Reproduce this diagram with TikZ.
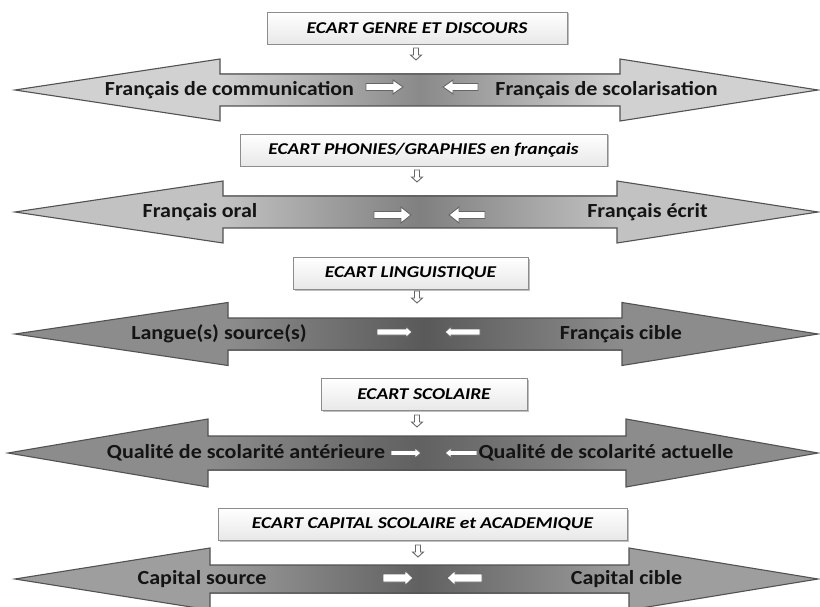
\documentclass[tikz,border=0pt]{standalone}
\usepackage{fontspec}
\setmainfont{Carlito}
\newfontfamily\lblfont{Carlito}[FakeStretch=1.1]
\newfontfamily\ttlfont{Carlito}[FakeStretch=1.18]
\usetikzlibrary{shadows}
\newcommand\blk[7]{% cx, cy, rotation, half length, shaft half, head half, head length
  \draw[arrowline, shift={(#1,#2)}, rotate=#3] (-#4,-#5) -- (#4-#7,-#5) -- (#4-#7,-#6) -- (#4,0) -- (#4-#7,#6) -- (#4-#7,#5) -- (-#4,#5) -- cycle;}
\newcommand\bigarr[9]{% y, left tip, left base, right base, right tip, shaft half, head half, head colour, mid colour
  \fill[#8] (#2,#1) -- (#3,#1-#7) -- (#3,#1+#7) -- cycle;
  \fill[#8] (#5,#1) -- (#4,#1-#7) -- (#4,#1+#7) -- cycle;
  \shade[left color=#8, right color=#8, middle color=#9] (#3,#1-#6) rectangle (#4,#1+#6);
  \draw[bigline] (#2,#1) -- (#3,#1-#7) -- (#3,#1-#6) -- (#4,#1-#6) -- (#4,#1-#7) -- (#5,#1) -- (#4,#1+#7) -- (#4,#1+#6) -- (#3,#1+#6) -- (#3,#1+#7) -- cycle;}
\begin{document}
\begin{tikzpicture}[x=1pt,y=-1pt,
  titlebox/.style={draw=black!45, line width=0.8pt, top color=white, bottom color=black!9,
    minimum height=32pt, inner sep=0pt, font=\ttlfont\bfseries\itshape\fontsize{16.5}{19}\selectfont,
    drop shadow={opacity=0.25, shadow xshift=1.5pt, shadow yshift=-1.5pt, fill=black}},
  lbl/.style={font=\lblfont\bfseries\fontsize{20}{24}\selectfont, inner sep=0pt, text=black!92},
  arrowline/.style={draw=black!60, fill=white, line width=0.9pt, line join=miter},
  bigline/.style={draw=black!68, line width=1.1pt, line join=miter}]
\clip (0,0) rectangle (820,607);
\fill[white] (0,0) rectangle (820,607);

% Row 1
\node[titlebox, minimum width=300pt] (t1) at (417,28) {ECART GENRE ET DISCOURS};
\blk{416}{54}{-90}{6}{2.5}{5.5}{5}
\bigarr{90}{15}{220}{620}{818}{16}{31}{black!18}{black!46}
\node[lbl] (l1) at (229.5,90) {Français de communication};
\node[lbl] (r1) at (606.5,90) {Français de scolarisation};
\blk{384.5}{87}{0}{18.5}{3.5}{7}{10}
\blk{460.5}{87}{180}{17.5}{3.5}{7}{10}

% Row 2
\node[titlebox, minimum width=367pt] (t2) at (423.5,150) {ECART PHONIES/GRAPHIES en français};
\blk{417}{176}{-90}{6}{2.5}{5.5}{5}
\bigarr{212}{15}{223}{617}{818}{16}{31}{black!24}{black!50}
\node[lbl] (l2) at (200,212) {Français oral};
\node[lbl] (r2) at (647.5,212) {Français écrit};
\blk{392.5}{215}{0}{18.5}{3.5}{8}{10}
\blk{467}{215}{180}{18}{3.5}{8}{10}

% Row 3
\node[titlebox, minimum width=235pt] (t3) at (410.5,273) {ECART LINGUISTIQUE};
\blk{417}{297}{-90}{6}{2.5}{5.5}{5}
\bigarr{334}{15}{228}{622}{818}{16}{31.5}{black!45}{black!65}
\node[lbl] (l3) at (219,334) {Langue(s) source(s)};
\node[lbl] (r3) at (621,334) {Français cible};
\blk{394.5}{332}{0}{17.5}{3}{5.5}{6}
\blk{462.5}{332}{180}{17.5}{3}{5.5}{6}

% Row 4
\node[titlebox, minimum width=206pt] (t4) at (424,394.5) {ECART SCOLAIRE};
\blk{417}{421}{-90}{6}{2.5}{5.5}{5}
\bigarr{453}{8}{208}{626}{818}{17}{34}{black!45}{black!62}
\node[lbl] (l4) at (246,453) {Qualité de scolarité antérieure};
\node[lbl] (r4) at (606,453) {Qualité de scolarité actuelle};
\blk{406}{453}{0}{15}{2.5}{5}{6}
\blk{461}{453}{180}{16}{2.5}{5}{6}

% Row 5
\node[titlebox, minimum width=409pt] (t5) at (422.5,524) {ECART CAPITAL SCOLAIRE et ACADEMIQUE};
\blk{418}{551}{-90}{6}{2.5}{5.5}{5}
\bigarr{579}{15}{210}{629}{818}{14}{31}{black!38}{black!62}
\node[lbl] (l5) at (202,579) {Capital source};
\node[lbl] (r5) at (626.5,579) {Capital cible};
\blk{398}{578}{0}{15}{4}{7.5}{8}
\blk{464.5}{578}{180}{17.5}{4}{7.5}{8}
\end{tikzpicture}
\end{document}
